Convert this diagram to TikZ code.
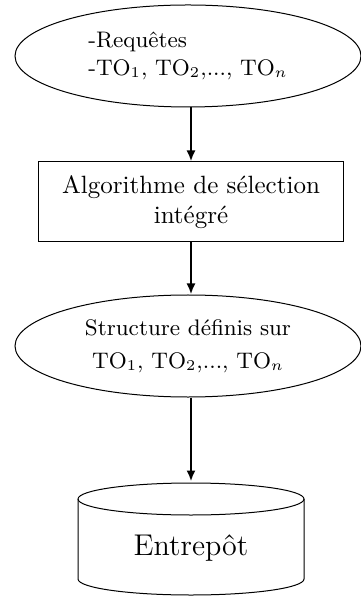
\documentclass[tikz,border=0pt]{standalone}
\usetikzlibrary{shapes.geometric,arrows.meta}
\begin{document}
\begin{tikzpicture}[x=0.4pt,y=-0.4pt,
  oval/.style={ellipse,draw,line width=0.4pt,inner sep=0pt,minimum width=138.4pt,minimum height=40.8pt,align=left,font=\small},
  procbox/.style={rectangle,draw,line width=0.4pt,inner sep=0pt,minimum width=121.6pt,minimum height=32pt,align=center},
  flow/.style={-{Latex[length=4.4pt,width=3.6pt]},line width=0.9pt}]
\useasboundingbox (0,0) rectangle (360,597);
\node[oval] (req) at (188,56) {-Requêtes\\-TO$_1$, TO$_2$,..., TO$_n$};
\node[procbox] (algo) at (191,202) {Algorithme de sélection\\intégré};
\node[oval,align=center] (struct) at (188,346) {Structure définis sur\\[2pt]TO$_1$, TO$_2$,..., TO$_n$};
\node[inner sep=0pt,minimum width=90.4pt,minimum height=45.6pt] (db) at (191,539) {};
\node[font=\large] (dbl) at (191,548) {Entrepôt};
\draw[line width=0.4pt] (78,499) arc[x radius=113,y radius=16,start angle=180,end angle=-180];
\draw[line width=0.4pt] (78,499) -- (78,579) arc[x radius=113,y radius=16,start angle=180,end angle=0] -- (304,499);
\draw[flow] (req.south -| algo.north) -- (algo.north);
\draw[flow] (algo.south) -- (algo.south |- struct.north);
\draw[flow] (struct.south -| db.north) -- (db.north);
\end{tikzpicture}
\end{document}
